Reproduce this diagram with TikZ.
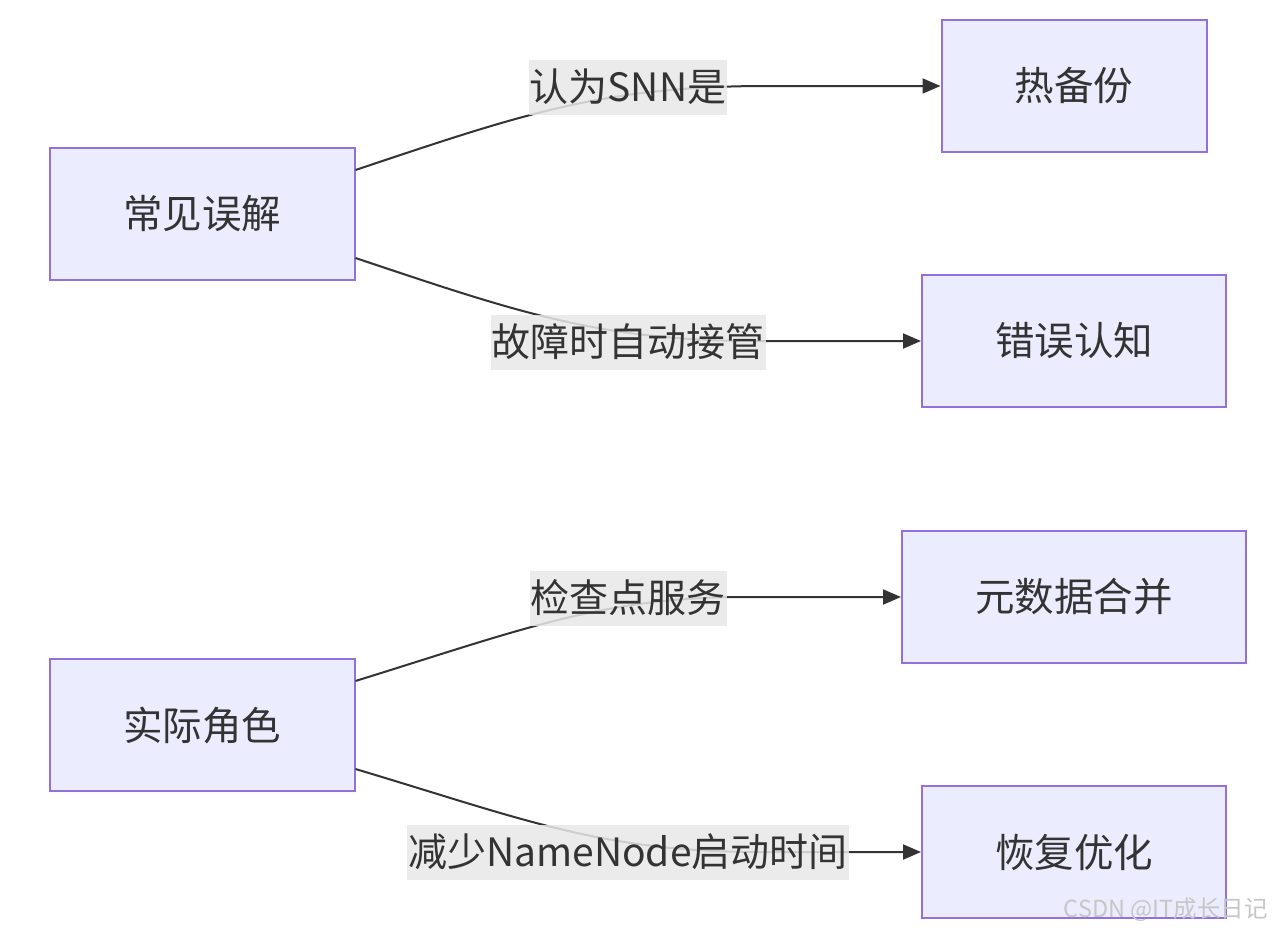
\documentclass[tikz,border=0pt]{standalone}
\usepackage{fontspec}
\setmainfont{Noto Sans CJK SC}
\usetikzlibrary{arrows.meta}
\definecolor{nodefill}{HTML}{ECECFF}
\definecolor{nodeline}{HTML}{9370DB}
\definecolor{txt}{HTML}{333333}
\definecolor{lblbg}{HTML}{E8E8E8}
\tikzset{
  box/.style={draw=nodeline, fill=nodefill, line width=2pt, minimum height=132pt, inner sep=0pt, text=txt, font=\fontsize{39.5}{42}\selectfont},
  lbl/.style={fill=lblbg, fill opacity=0.85, text opacity=1, text=txt, minimum height=55pt, inner ysep=0pt, inner xsep=1pt, font=\fontsize{39}{42}\selectfont},
  edge/.style={draw=txt, line width=2pt, -{Triangle[length=18pt,width=15pt]}},
}
\begin{document}
\begin{tikzpicture}[x=1pt,y=-1pt]
\useasboundingbox (0,0) rectangle (1274,932);
\node[box, minimum width=305pt] (n1) at (202,214) {常见误解};
\node[box, minimum width=265pt] (t1) at (1074,86) {热备份};
\node[box, minimum width=304pt] (t2) at (1074,341) {错误认知};
\node[box, minimum width=344pt] (t3) at (1074,597) {元数据合并};
\node[box, minimum width=305pt] (n2) at (202,725) {实际角色};
\node[box, minimum width=304pt] (t4) at (1074,852) {恢复优化};

\draw[edge] (n1.16.7) .. controls (520,115) and (600,87) .. (760,86) -- (t1.west);
\draw[edge] (n1.-16.7) .. controls (520,313) and (600,341) .. (760,341) -- (t2.west);
\draw[edge] (n2.16.7) .. controls (520,630) and (600,598) .. (740,597) -- (t3.west);
\draw[edge] (n2.-16.7) .. controls (520,818) and (600,852) .. (760,852) -- (t4.west);

\node[lbl] (l1) at (628,87) {认为SNN是};
\node[lbl] (l2) at (628,342) {故障时自动接管};
\node[lbl] (l3) at (628,598) {检查点服务};
\node[lbl] (l4) at (628,852) {减少NameNode启动时间};

\node[anchor=east, text=gray!45, font=\fontsize{23.5}{26}\selectfont, inner sep=0pt] (wm) at (1268,910) {CSDN @IT成长日记};
\end{tikzpicture}
\end{document}
